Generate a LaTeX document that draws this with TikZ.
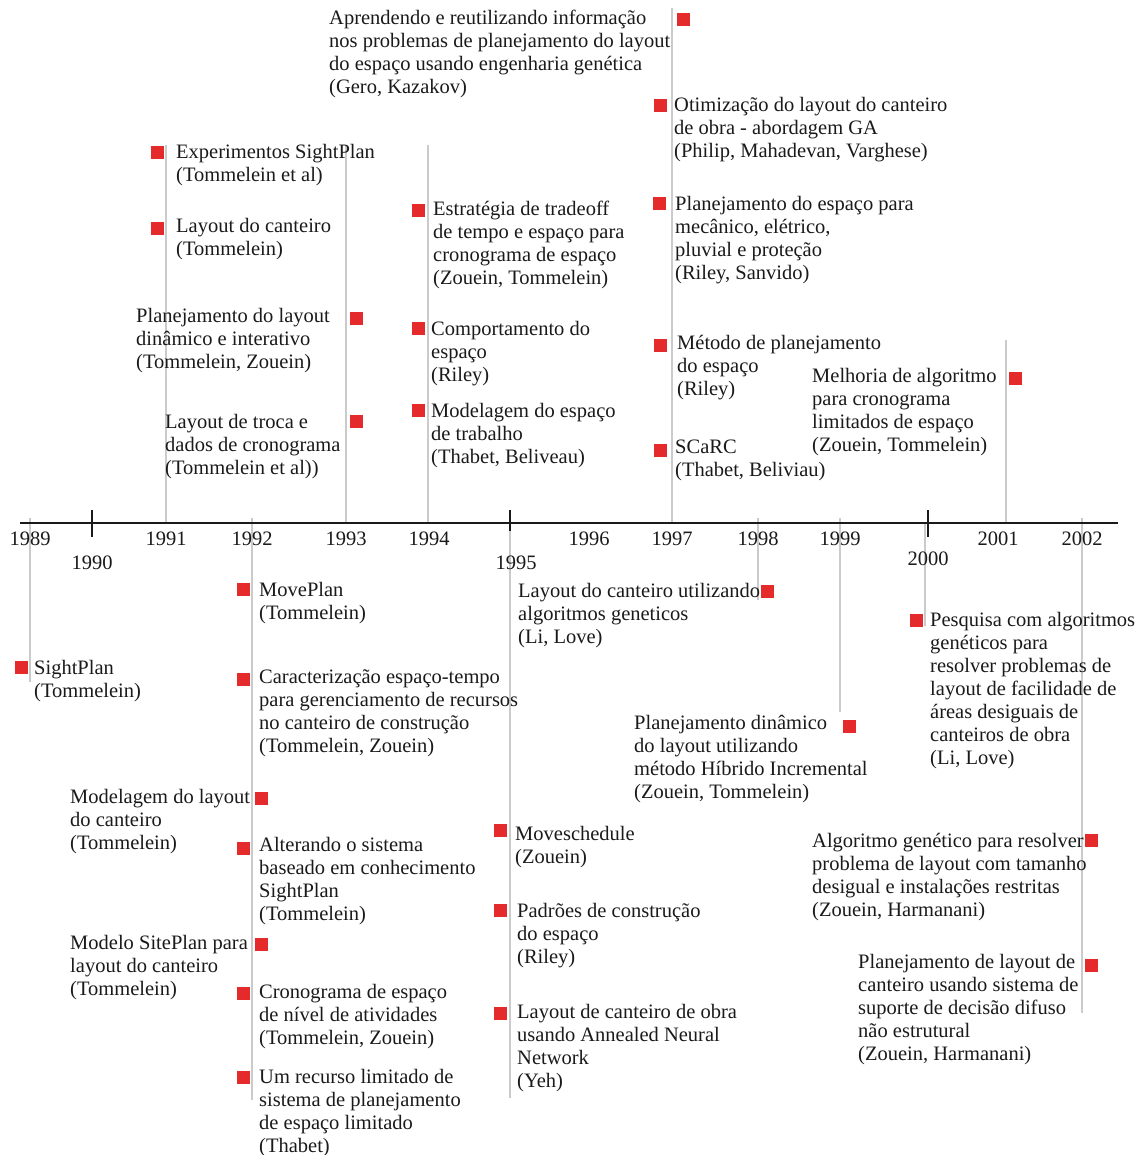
\documentclass[tikz,border=0pt]{standalone}
\usepackage{fontspec}
\setmainfont{Liberation Serif}
\definecolor{boxred}{HTML}{E42A2A}
\definecolor{stemgray}{HTML}{CBCBCB}
\definecolor{ink}{HTML}{1A1A1A}
\newcommand\fs{\fontsize{20.5}{23}\selectfont}
\tikzset{
  lbl/.style={anchor=north west, inner sep=0pt, align=left, font=\fs, text=ink,
              execute at begin node={\rule{0pt}{17.5pt}}},
  yr/.style={anchor=base, inner sep=0pt, font=\fs, text=ink},
  sq/.style={fill=boxred, minimum size=13pt, inner sep=0pt},
  stem/.style={draw=stemgray, line width=1.6pt},
  axisline/.style={draw=ink, line width=2.6pt},
  tick/.style={draw=ink, line width=2.6pt},
}
\begin{document}
\begin{tikzpicture}[x=1pt,y=-1pt]
\useasboundingbox[fill=white] (0,0) rectangle (1143,1155);
% stems
\coordinate (s89t) at (30,518);   \coordinate (s89b) at (30,682);
\coordinate (s91t) at (166,145);  \coordinate (s91b) at (166,523);
\coordinate (s92t) at (252,518);  \coordinate (s92b) at (252,1100);
\coordinate (s93t) at (346,145);  \coordinate (s93b) at (346,523);
\coordinate (s94t) at (428,145);  \coordinate (s94b) at (428,523);
\coordinate (s95t) at (510,523);  \coordinate (s95b) at (510,1098);
\coordinate (s97t) at (672,8);    \coordinate (s97b) at (672,523);
\coordinate (s98t) at (758,518);  \coordinate (s98b) at (758,600);
\coordinate (s99t) at (840,518);  \coordinate (s99b) at (840,712);
\coordinate (s00t) at (925,523);  \coordinate (s00b) at (925,626);
\coordinate (s01t) at (1006,340); \coordinate (s01b) at (1006,523);
\coordinate (s02t) at (1082,518); \coordinate (s02b) at (1082,1013);
\foreach \s in {89,91,92,93,94,95,97,98,99,00,01,02}
  \draw[stem] (s\s t) -- (s\s b);
% axis
\coordinate (axL) at (20,523); \coordinate (axR) at (1118,523);
\draw[axisline] (axL) -- (axR);
\coordinate (t90a) at (92,510); \coordinate (t90b) at (92,537);
\coordinate (t95a) at (510,510); \coordinate (t95b) at (510,531);
\coordinate (t00a) at (928,510); \coordinate (t00b) at (928,537);
\draw[tick] (t90a) -- (t90b);
\draw[tick, line width=2pt] (t95a) -- (t95b);
\draw[tick] (t00a) -- (t00b);
% years
\node[yr] (y89) at (30,545) {1989};
\node[yr] (y90) at (92,569) {1990};
\node[yr] (y91) at (166,545) {1991};
\node[yr] (y92) at (252,545) {1992};
\node[yr] (y93) at (346,545) {1993};
\node[yr] (y94) at (429,545) {1994};
\node[yr] (y95) at (516,569) {1995};
\node[yr] (y96) at (589,545) {1996};
\node[yr] (y97) at (672,545) {1997};
\node[yr] (y98) at (758,545) {1998};
\node[yr] (y99) at (840,545) {1999};
\node[yr] (y00) at (928,565) {2000};
\node[yr] (y01) at (998,545) {2001};
\node[yr] (y02) at (1082,545) {2002};
% ---------- above the axis ----------
\node[sq] (q1) at (683,20) {};
\node[lbl] (e1) at (329,10) {Aprendendo e reutilizando informação\\nos problemas de planejamento do layout\\do espaço usando engenharia genética\\(Gero, Kazakov)};
\node[sq] (q2) at (660,106) {};
\node[lbl] (e2) at (674,97) {Otimização do layout do canteiro\\de obra - abordagem GA\\(Philip, Mahadevan, Varghese)};
\node[sq] (q3) at (659,204) {};
\node[lbl] (e3) at (675,196) {Planejamento do espaço para\\mecânico, elétrico,\\pluvial e proteção\\(Riley, Sanvido)};
\node[sq] (q4) at (660,345) {};
\node[lbl] (e4) at (677,335) {Método de planejamento\\do espaço\\(Riley)};
\node[sq] (q5) at (660,450) {};
\node[lbl] (e5) at (675,440) {SCaRC\\(Thabet, Beliviau)};
\node[sq] (q6) at (157,153) {};
\node[lbl] (e6) at (176,144) {Experimentos SightPlan\\(Tommelein et al)};
\node[sq] (q7) at (157,229) {};
\node[lbl] (e7) at (176,218) {Layout do canteiro\\(Tommelein)};
\node[sq] (q8) at (356,318) {};
\node[lbl] (e8) at (136,308) {Planejamento do layout\\dinâmico e interativo\\(Tommelein, Zouein)};
\node[sq] (q9) at (356,421) {};
\node[lbl] (e9) at (165,414) {Layout de troca e\\dados de cronograma\\(Tommelein et al))};
\node[sq] (q10) at (418,211) {};
\node[lbl] (e10) at (433,201) {Estratégia de tradeoff\\de tempo e espaço para\\cronograma de espaço\\(Zouein, Tommelein)};
\node[sq] (q11) at (418,328) {};
\node[lbl] (e11) at (431,321) {Comportamento do\\espaço\\(Riley)};
\node[sq] (q12) at (418,410) {};
\node[lbl] (e12) at (431,403) {Modelagem do espaço\\de trabalho\\(Thabet, Beliveau)};
\node[sq] (q13) at (1015,378) {};
\node[lbl] (e13) at (812,368) {Melhoria de algoritmo\\para cronograma\\limitados de espaço\\(Zouein, Tommelein)};
% ---------- below the axis ----------
\node[sq] (q14) at (21,667) {};
\node[lbl] (e14) at (34,660) {SightPlan\\(Tommelein)};
\node[sq] (q15) at (243,589) {};
\node[lbl] (e15) at (259,582) {MovePlan\\(Tommelein)};
\node[sq] (q16) at (243,679) {};
\node[lbl] (e16) at (259,669) {Caracterização espaço-tempo\\para gerenciamento de recursos\\no canteiro de construção\\(Tommelein, Zouein)};
\node[sq] (q17) at (261,798) {};
\node[lbl] (e17) at (70,789) {Modelagem do layout\\do canteiro\\(Tommelein)};
\node[sq] (q18) at (243,848) {};
\node[lbl] (e18) at (259,837) {Alterando o sistema\\baseado em conhecimento\\SightPlan\\(Tommelein)};
\node[sq] (q19) at (261,944) {};
\node[lbl] (e19) at (70,935) {Modelo SitePlan para\\layout do canteiro\\(Tommelein)};
\node[sq] (q20) at (243,993) {};
\node[lbl] (e20) at (259,984) {Cronograma de espaço\\de nível de atividades\\(Tommelein, Zouein)};
\node[sq] (q21) at (243,1077) {};
\node[lbl] (e21) at (259,1069) {Um recurso limitado de\\sistema de planejamento\\de espaço limitado\\(Thabet)};
\node[sq] (q22) at (767,591) {};
\node[lbl] (e22) at (518,583) {Layout do canteiro utilizando\\algoritmos geneticos\\(Li, Love)};
\node[sq] (q23) at (500,830) {};
\node[lbl] (e23) at (515,826) {Moveschedule\\(Zouein)};
\node[sq] (q24) at (500,910) {};
\node[lbl] (e24) at (517,903) {Padrões de construção\\do espaço\\(Riley)};
\node[sq] (q25) at (500,1013) {};
\node[lbl] (e25) at (517,1004) {Layout de canteiro de obra\\usando Annealed Neural\\Network\\(Yeh)};
\node[sq] (q26) at (849,726) {};
\node[lbl] (e26) at (634,715) {Planejamento dinâmico\\do layout utilizando\\método Híbrido Incremental\\(Zouein, Tommelein)};
\node[sq] (q27) at (916,620) {};
\node[lbl] (e27) at (930,612) {Pesquisa com algoritmos\\genéticos para\\resolver problemas de\\layout de facilidade de\\áreas desiguais de\\canteiros de obra\\(Li, Love)};
\node[sq] (q28) at (1091,840) {};
\node[lbl] (e28) at (812,833) {Algoritmo genético para resolver\\problema de layout com tamanho\\desigual e instalações restritas\\(Zouein, Harmanani)};
\node[sq] (q29) at (1091,965) {};
\node[lbl] (e29) at (858,954) {Planejamento de layout de\\canteiro usando sistema de\\suporte de decisão difuso\\não estrutural\\(Zouein, Harmanani)};
\end{tikzpicture}
\end{document}
